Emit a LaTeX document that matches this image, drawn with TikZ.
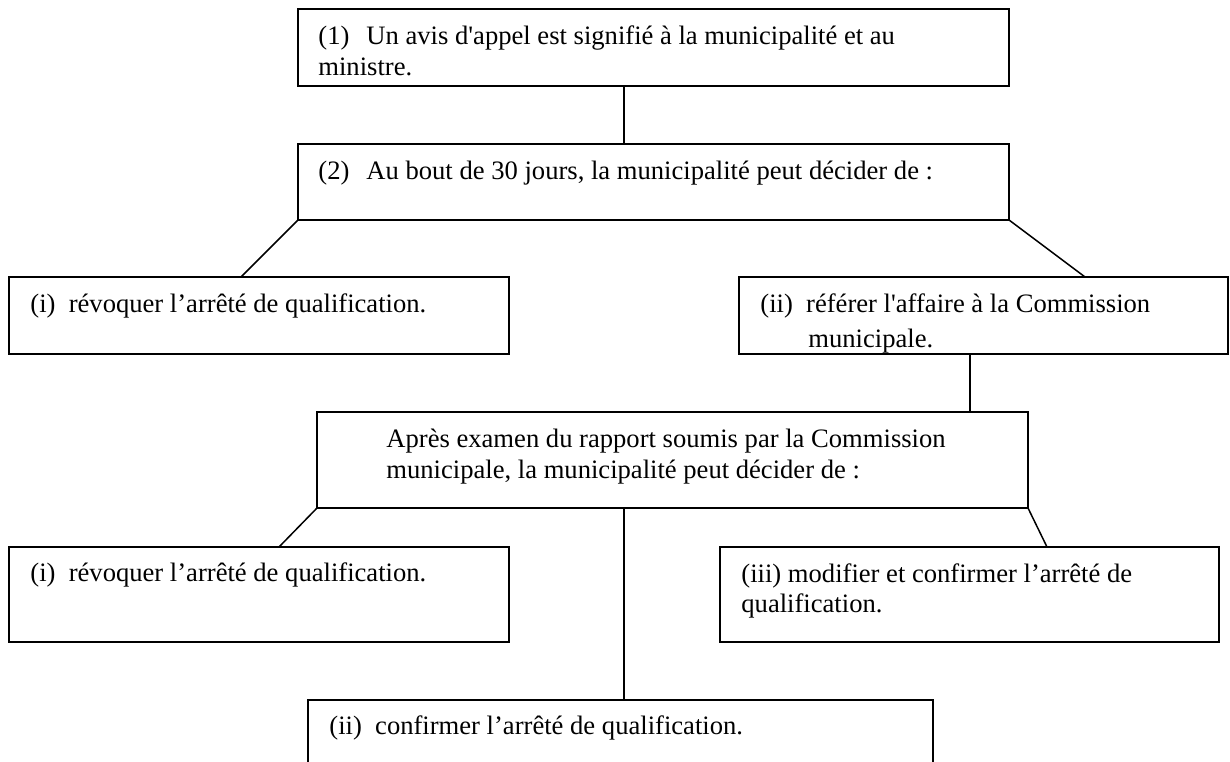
\documentclass[tikz,border=0pt]{standalone}
\usepackage{fontspec}
\setmainfont{Liberation Serif}

\tikzset{
  boite/.style={draw, line width=0.9pt, anchor=north west, inner sep=0pt, outer sep=0pt},
  texte/.style={anchor=base west, inner sep=0pt, align=left,
                font=\fontsize{13.3}{15.3}\selectfont},
  lien/.style={line width=0.75pt}
}

\begin{document}
\begin{tikzpicture}[x=0.5pt,y=-0.5pt]
\useasboundingbox[fill=white] (0,0) rectangle (1230,761);

% cadres
\node[boite, minimum width=355.5pt, minimum height=38.5pt] (b1) at (298,9) {};
\node[boite, minimum width=355.5pt, minimum height=38pt] (b2) at (298,144) {};
\node[boite, minimum width=250pt, minimum height=38.5pt] (bi1) at (9,277) {};
\node[boite, minimum width=244.5pt, minimum height=38.5pt] (bii1) at (739,277) {};
\node[boite, minimum width=355.5pt, minimum height=48pt] (ap) at (317,412) {};
\node[boite, minimum width=250pt, minimum height=47.5pt] (bi2) at (9,547) {};
\node[boite, minimum width=249.5pt, minimum height=47.5pt] (biii) at (720,547) {};
\node[boite, minimum width=312.5pt, minimum height=42pt] (bii2) at (308,700) {};

% textes (base = derniere ligne)
\node[texte] (t1) at ([xshift=10pt,yshift=-33pt]b1.north west)
  {(1)\hspace{.64em}Un avis d\textquotesingle appel est signifié à la municipalité et au\\ministre.};
\node[texte] (t2) at ([xshift=10pt,yshift=-17.5pt]b2.north west)
  {(2)\hspace{.64em}Au bout de 30 jours, la municipalité peut décider de :};
\node[texte] (ti1) at ([xshift=10.5pt,yshift=-17.5pt]bi1.north west)
  {(i)\hspace{.5em}révoquer l’arrêté de qualification.};
\begin{scope}
\clip (bii1.north west) rectangle (bii1.south east);
\node[texte] (tii1) at ([xshift=10.5pt,yshift=-35pt]bii1.north west)
  {(ii)\hspace{.5em}référer l\textquotesingle affaire à la Commission\\[2.2pt]\hspace*{24pt}municipale.};
\end{scope}
\node[texte] (tap) at ([xshift=34.5pt,yshift=-33pt]ap.north west)
  {Après examen du rapport soumis par la Commission\\municipale, la municipalité peut décider de :};
\node[texte] (ti2) at ([xshift=10.5pt,yshift=-17pt]bi2.north west)
  {(i)\hspace{.5em}révoquer l’arrêté de qualification.};
\node[texte] (tiii) at ([xshift=10.5pt,yshift=-32.8pt]biii.north west)
  {(iii) modifier et confirmer l’arrêté de\\qualification.};
\node[texte] (tii2) at ([xshift=10.5pt,yshift=-17pt]bii2.north west)
  {(ii)\hspace{.5em}confirmer l’arrêté de qualification.};

% liens
\draw[lien] ([xshift=163pt]b1.south west) -- ([xshift=163pt]b2.north west);
\draw[lien] (b2.south west) -- ([xshift=116pt]bi1.north west);
\draw[lien] (b2.south east) -- ([xshift=173pt]bii1.north west);
\draw[lien] ([xshift=115.5pt]bii1.south west) -- ([xshift=326.5pt]ap.north west);
\draw[lien] (ap.south west) -- ([xshift=135pt]bi2.north west);
\draw[lien] ([xshift=153.5pt]ap.south west) -- ([xshift=158pt]bii2.north west);
\draw[lien] (ap.south east) -- ([xshift=163.5pt]biii.north west);
\end{tikzpicture}
\end{document}
